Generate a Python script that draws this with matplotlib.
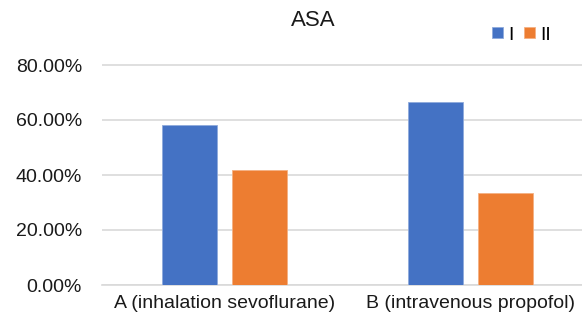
import numpy as np
import matplotlib.pyplot as plt

plt.rcParams['font.family'] = ['Liberation Sans', 'DejaVu Sans']

# data
categories = ['A (inhalation sevoflurane)', 'B (intravenous propofol)']
series_names = ['I', 'II']
asa_i = [0.5833, 0.6667]
asa_ii = [0.4167, 0.3333]
colors = ['#4472C4', '#ED7D31']

W, H = 582, 333
fig = plt.figure(figsize=(W / 100, H / 100), dpi=100)
# plot area runs a little past the right edge of the picture
ax = fig.add_axes([101.5 / W, 48 / H, 492 / W, 231 / H])

x = np.arange(len(categories))
bw = 0.2236
off = 0.142
ax.bar(x - off, asa_i, bw, color=colors[0], edgecolor='#8FAADC', linewidth=0.6,
       label=series_names[0], zorder=3)
ax.bar(x + off, asa_ii, bw, color=colors[1], edgecolor='#F4B183', linewidth=0.6,
       label=series_names[1], zorder=3)

ax.set_xlim(-0.5, 1.5)
ax.set_ylim(0, 0.84)
ax.set_yticks([0, 0.2, 0.4, 0.6, 0.8])
ax.set_yticklabels([f'{v * 100:.2f}%' for v in [0, 0.2, 0.4, 0.6, 0.8]])
ax.set_xticks(x)
ax.set_xticklabels(categories)
ax.tick_params(axis='both', length=0, labelsize=14)
ax.tick_params(axis='y', pad=14)
ax.tick_params(axis='x', pad=7)
for lab in ax.get_xticklabels() + ax.get_yticklabels():
    lab.set_color('#1a1a1a')

ax.grid(axis='y', color='#D9D9D9', linewidth=1.2, zorder=0)
for s in ['top', 'right', 'left']:
    ax.spines[s].set_visible(False)
ax.spines['bottom'].set_color('#D9D9D9')
ax.spines['bottom'].set_linewidth(1.2)

fig.text(313 / W, 1 - 20 / H, 'ASA', ha='center', va='center', fontsize=16,
         color='#1a1a1a')

fig.legend(loc='center', bbox_to_anchor=(521.5 / W, 1 - 35 / H), ncol=2, frameon=False,
           handlelength=0.55, handleheight=0.55, handletextpad=0.26, columnspacing=0.57,
           fontsize=14, borderpad=0, borderaxespad=0)

fig.savefig('out.png', dpi=100)
